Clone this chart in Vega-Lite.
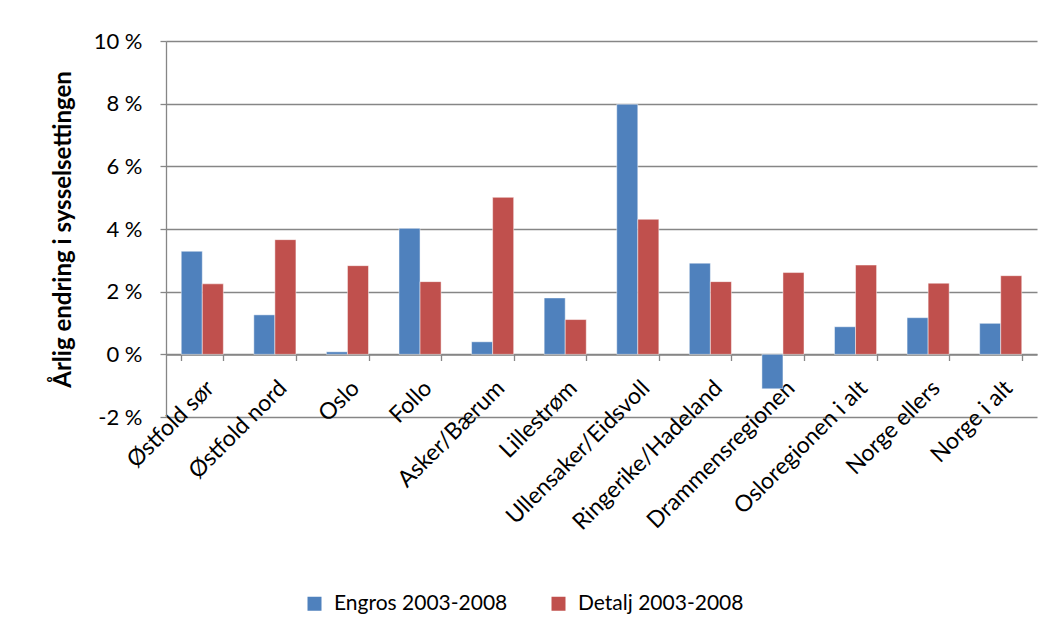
{
  "$schema": "https://vega.github.io/schema/vega-lite/v6.json",
  "width": 871,
  "height": 376,
  "autosize": {"type": "none"},
  "padding": {"left": 166, "top": 41, "right": 14, "bottom": 217},
  "background": "white",
  "config": {"view": {"stroke": null}, "font": "Lato"},
  "data": {
    "values": [
      {"region": "Østfold sør", "series": "Engros 2003-2008", "value": 3.29},
      {"region": "Østfold sør", "series": "Detalj 2003-2008", "value": 2.25},
      {"region": "Østfold nord", "series": "Engros 2003-2008", "value": 1.26},
      {"region": "Østfold nord", "series": "Detalj 2003-2008", "value": 3.66},
      {"region": "Oslo", "series": "Engros 2003-2008", "value": 0.08},
      {"region": "Oslo", "series": "Detalj 2003-2008", "value": 2.83},
      {"region": "Follo", "series": "Engros 2003-2008", "value": 4.02},
      {"region": "Follo", "series": "Detalj 2003-2008", "value": 2.32},
      {"region": "Asker/Bærum", "series": "Engros 2003-2008", "value": 0.40},
      {"region": "Asker/Bærum", "series": "Detalj 2003-2008", "value": 5.01},
      {"region": "Lillestrøm", "series": "Engros 2003-2008", "value": 1.80},
      {"region": "Lillestrøm", "series": "Detalj 2003-2008", "value": 1.11},
      {"region": "Ullensaker/Eidsvoll", "series": "Engros 2003-2008", "value": 7.98},
      {"region": "Ullensaker/Eidsvoll", "series": "Detalj 2003-2008", "value": 4.31},
      {"region": "Ringerike/Hadeland", "series": "Engros 2003-2008", "value": 2.91},
      {"region": "Ringerike/Hadeland", "series": "Detalj 2003-2008", "value": 2.32},
      {"region": "Drammensregionen", "series": "Engros 2003-2008", "value": -1.10},
      {"region": "Drammensregionen", "series": "Detalj 2003-2008", "value": 2.61},
      {"region": "Osloregionen i alt", "series": "Engros 2003-2008", "value": 0.88},
      {"region": "Osloregionen i alt", "series": "Detalj 2003-2008", "value": 2.85},
      {"region": "Norge ellers", "series": "Engros 2003-2008", "value": 1.17},
      {"region": "Norge ellers", "series": "Detalj 2003-2008", "value": 2.27},
      {"region": "Norge i alt", "series": "Engros 2003-2008", "value": 0.99},
      {"region": "Norge i alt", "series": "Detalj 2003-2008", "value": 2.51}
    ]
  },
  "mark": {"type": "bar", "stroke": "white", "strokeWidth": 0.8, "strokeOpacity": 0.6},
  "encoding": {
    "x": {
      "field": "region",
      "type": "nominal",
      "sort": null,
      "scale": {"paddingInner": 0.42, "paddingOuter": 0.21},
      "axis": {
        "title": null,
        "labelAngle": -45,
        "offset": -62.5,
        "domainColor": "#868686",
        "domainWidth": 1.3,
        "tickColor": "#868686",
        "tickWidth": 1.3,
        "tickBand": "extent",
        "tickSize": 6,
        "labelFontSize": 23,
        "labelFont": "Lato",
        "labelColor": "black",
        "labelPadding": 16,
        "labelLimit": 300,
        "grid": false
      }
    },
    "xOffset": {"field": "series", "sort": ["Engros 2003-2008", "Detalj 2003-2008"]},
    "y": {
      "field": "value",
      "type": "quantitative",
      "scale": {"domain": [-2, 10], "nice": false, "zero": false},
      "axis": {
        "title": "Årlig endring i sysselsettingen",
        "titleFont": "Lato",
        "titleFontSize": 24,
        "titleFontWeight": "bold",
        "titleColor": "black",
        "titlePadding": 18,
        "values": [-2, 0, 2, 4, 6, 8, 10],
        "labelExpr": "datum.value + ' %'",
        "labelFont": "Lato",
        "labelFontSize": 22,
        "labelColor": "black",
        "labelPadding": 18,
        "tickSize": 6,
        "tickColor": "#868686",
        "tickWidth": 1.3,
        "domainColor": "#868686",
        "domainWidth": 1.3,
        "gridColor": "#868686",
        "gridWidth": 1.3
      }
    },
    "color": {
      "field": "series",
      "type": "nominal",
      "scale": {"domain": ["Engros 2003-2008", "Detalj 2003-2008"], "range": ["#4F81BD", "#C0504D"]},
      "legend": {
        "title": null,
        "orient": "none",
        "legendX": 138,
        "legendY": 552,
        "direction": "horizontal",
        "symbolType": "square",
        "symbolSize": 196,
        "symbolStrokeWidth": 0,
        "labelFont": "Lato",
        "labelFontSize": 21,
        "labelColor": "black",
        "labelLimit": 300,
        "labelOffset": 9,
        "columnPadding": 40
      }
    }
  }
}
